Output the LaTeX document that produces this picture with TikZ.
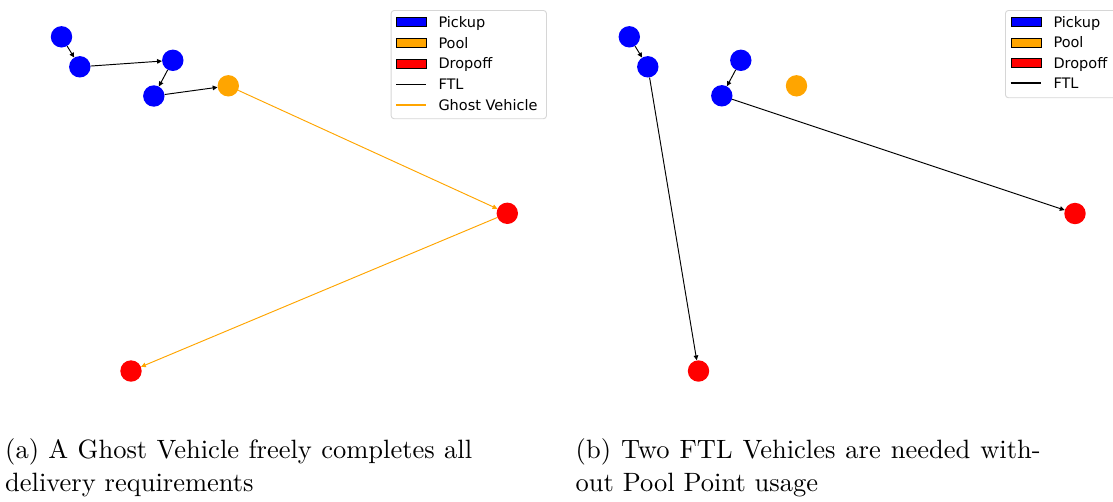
\documentclass[tikz,border=0pt]{standalone}
\usepackage{fontspec}
\usetikzlibrary{arrows.meta}
\newfontfamily\legendfont{DejaVu Sans}
\newfontfamily\capfont{lmroman10-regular.otf}
\definecolor{pickupblue}{HTML}{0000FF}
\definecolor{poolorange}{HTML}{FFA500}
\definecolor{dropred}{HTML}{FF0000}
\definecolor{legframe}{HTML}{D6D6D6}
\tikzset{
  site/.style={circle, minimum size=21.4pt, inner sep=0pt, draw=none},
  pickup/.style={site, fill=pickupblue},
  pool/.style={site, fill=poolorange},
  dropoff/.style={site, fill=dropred},
  ftl/.style={draw=black, line width=0.95pt, -{Triangle[length=4.8pt,width=4.6pt]}},
  ghost/.style={draw=poolorange, line width=0.95pt, -{Triangle[length=4.8pt,width=4.6pt]}},
  legbox/.style={draw=legframe, line width=0.9pt, fill=white, rounded corners=3pt},
  legpatch/.style={draw=black, line width=0.6pt, minimum width=30pt, minimum height=9.5pt, inner sep=0pt},
  legline/.style={line width=1.6pt},
  legtext/.style={font=\legendfont\fontsize{14.5}{17}\selectfont, anchor=base west, inner sep=0pt},
  captext/.style={font=\capfont\fontsize{26.5}{33.5}\selectfont, anchor=base west, inner sep=0pt},
}
\begin{document}
\begin{tikzpicture}[x=1pt, y=-1pt]
\useasboundingbox (0,0) rectangle (1113,501);
\clip (0,0) rectangle (1113,501);

% ---------- left panel: ghost vehicle route ----------
\node[pickup]  (la1) at (61.5,36.8) {};
\node[pickup]  (la2) at (79.8,66.8) {};
\node[pickup]  (la3) at (172.8,60.3) {};
\node[pickup]  (la4) at (153.8,96) {};
\node[pool]    (lpool) at (228.3,85.8) {};
\node[dropoff] (ld1) at (507.3,213.3) {};
\node[dropoff] (ld2) at (131,371) {};

\draw[ftl] (la1) -- (la2);
\draw[ftl] (la2) -- (la3);
\draw[ftl] (la3) -- (la4);
\draw[ftl] (la4) -- (lpool);
\draw[ghost] (lpool) -- (ld1);
\draw[ghost] (ld1) -- (ld2);

% legend of the left panel
\node[legbox, minimum width=155.3pt, minimum height=108.3pt, anchor=north west, inner sep=0pt] (lleg) at (390.7,10) {};
\node[legpatch, fill=pickupblue, anchor=west] (lkp) at (396,22) {};
\node[legpatch, fill=poolorange, anchor=west] (lko) at (396,42.8) {};
\node[legpatch, fill=dropred, anchor=west] (lkd) at (396,63.6) {};
\coordinate (lkf) at (396,84.4);
\coordinate (lkfe) at (426,84.4);
\coordinate (lkg) at (396,105.2);
\coordinate (lkge) at (426,105.2);
\draw[legline, draw=black] (lkf) -- (lkfe);
\draw[legline, draw=poolorange] (lkg) -- (lkge);
\node[legtext] (ltp) at (438.3,27.3) {Pickup};
\node[legtext] (lto) at (438.3,48.1) {Pool};
\node[legtext] (ltd) at (438.3,68.9) {Dropoff};
\node[legtext] (ltf) at (438.3,89.7) {FTL};
\node[legtext] (ltg) at (438.3,110.5) {Ghost Vehicle};

% ---------- right panel: two FTL vehicles ----------
\node[pickup]  (ra1) at (629.3,36.8) {};
\node[pickup]  (ra2) at (647.8,66.8) {};
\node[pickup]  (ra3) at (740.8,60.3) {};
\node[pickup]  (ra4) at (721.8,95.8) {};
\node[pool]    (rpool) at (796.5,85.8) {};
\node[dropoff] (rd1) at (1075,213.5) {};
\node[dropoff] (rd2) at (698.5,371) {};

\draw[ftl] (ra1) -- (ra2);
\draw[ftl] (ra2) -- (rd2);
\draw[ftl] (ra3) -- (ra4);
\draw[ftl] (ra4) -- (rd1);

% legend of the right panel
\node[legbox, minimum width=125pt, minimum height=87.3pt, anchor=north west, inner sep=0pt] (rleg) at (1005,10) {};
\node[legpatch, fill=pickupblue, anchor=west] (rkp) at (1010.7,22) {};
\node[legpatch, fill=poolorange, anchor=west] (rko) at (1010.7,42.6) {};
\node[legpatch, fill=dropred, anchor=west] (rkd) at (1010.7,63) {};
\coordinate (rkf) at (1010.7,83.2);
\coordinate (rkfe) at (1040.7,83.2);
\draw[legline, draw=black] (rkf) -- (rkfe);
\node[legtext] (rtp) at (1053.3,27.3) {Pickup};
\node[legtext] (rto) at (1053.3,47.9) {Pool};
\node[legtext] (rtd) at (1053.3,68.3) {Dropoff};
\node[legtext] (rtf) at (1053.3,88.5) {FTL};

% ---------- captions ----------
\node[captext] (capa1) at (5,458) {\makebox[467pt][s]{(a) A Ghost Vehicle freely completes all}};
\node[captext] (capa2) at (5,491.5) {delivery requirements};
\node[captext] (capb1) at (575.5,458) {\makebox[465pt][s]{(b) Two FTL Vehicles are needed with-}};
\node[captext] (capb2) at (575.5,491.5) {out Pool Point usage};
\end{tikzpicture}
\end{document}
